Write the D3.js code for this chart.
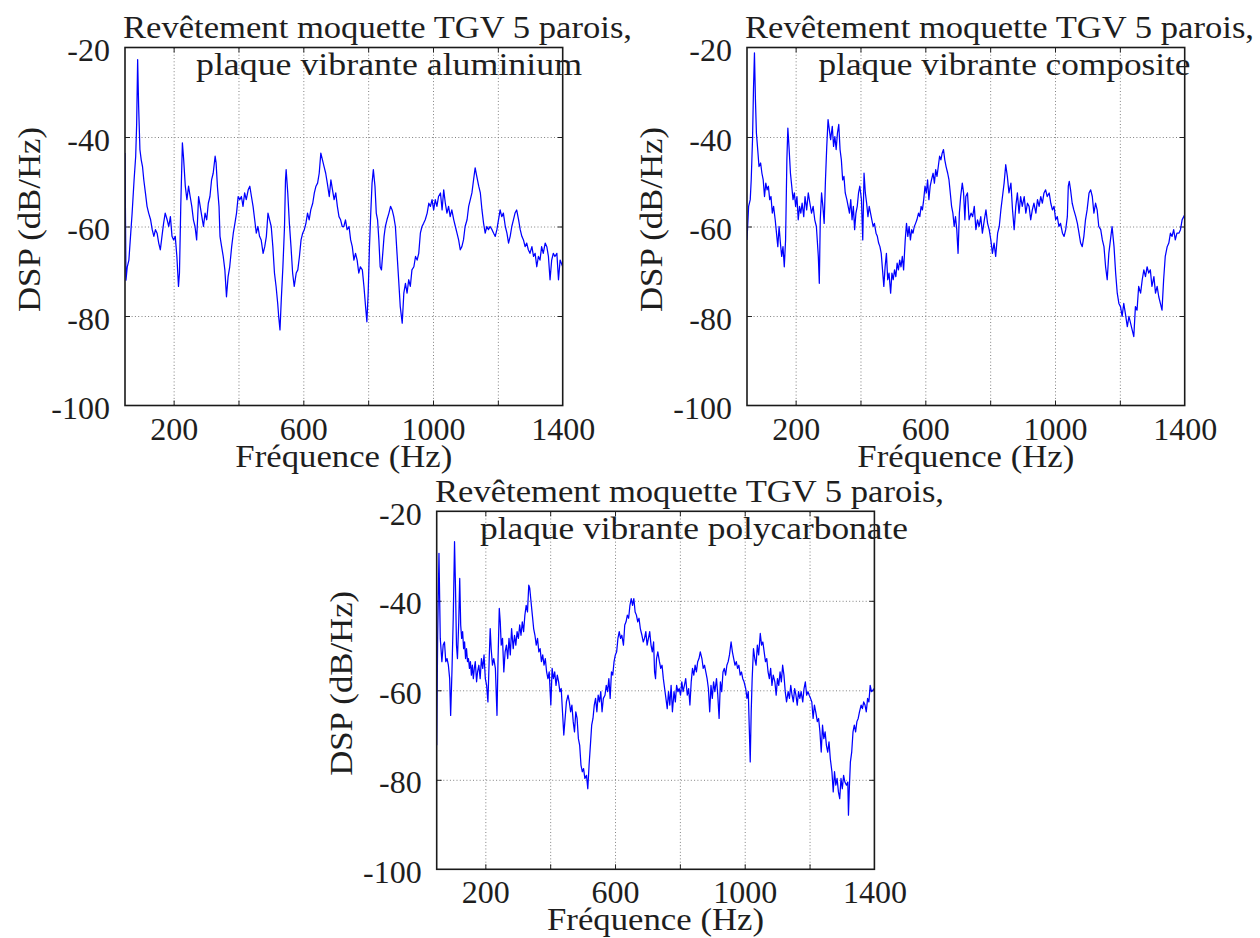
<!DOCTYPE html>
<html><head><meta charset="utf-8">
<script src="https://cdn.jsdelivr.net/npm/d3@7"></script>
<style>
body{margin:0;background:#fff;}
text{font-family:"Liberation Serif","Times New Roman",serif;fill:#1e1e1e;}
</style></head><body>
<script>
// ---------- data ----------
const xDomain = [50, 1400];
const yDomain = [-100, -20];
const gridFreqs = [200, 400, 600, 800, 1000, 1200];
const freqTickLabels = [200, 600, 1000, 1400];
const dspTicks = [-20, -40, -60, -80, -100];
const titleLine1 = "Revêtement moquette TGV 5 parois,";
const titleLine2 = ["plaque vibrante aluminium", "plaque vibrante composite", "plaque vibrante polycarbonate"];
const xLabel = "Fréquence (Hz)";
const yLabel = "DSP (dB/Hz)";

// [frequency Hz, DSP dB/Hz]
const dspAluminium = [[50,-43.6],[53,-72],[57,-69],[62,-67.5],[67,-62.2],[72,-57],[78,-49.6],[83,-44.3],[86,-37],[89,-22.7],[92,-33],[96,-42.8],[100,-45.1],[104,-46.6],[108,-49.6],[113,-52.5],[118,-55.5],[123,-57],[129,-58.5],[134,-60.7],[139,-62.2],[144,-60.7],[149,-61.5],[154,-63.7],[159,-65.2],[164,-62.2],[169,-59.3],[174,-57],[180,-58.5],[185,-60],[190,-57.8],[195,-62.2],[200,-63],[205,-62.2],[210,-66.7],[215,-73.4],[218,-70.4],[222,-55.5],[227,-41.3],[231,-45.1],[236,-51],[241,-54],[246,-51],[251,-53.3],[256,-55.5],[261,-58.5],[266,-60],[271,-63],[277,-53.3],[282,-55.5],[287,-57.8],[292,-60],[297,-57],[302,-58.5],[307,-54.8],[312,-53.3],[317,-49.6],[322,-48.1],[328,-44.3],[331,-45.8],[335,-51],[340,-55.5],[343,-62.2],[348,-64.5],[353,-66.7],[358,-69.7],[363,-75.7],[368,-71.2],[373,-69],[379,-64.5],[384,-61.5],[389,-59.3],[394,-57],[399,-53.3],[404,-54],[409,-53.3],[414,-55.5],[419,-52.5],[424,-54],[430,-51.8],[435,-51],[440,-53.3],[445,-55.5],[450,-58.5],[455,-61.5],[460,-60],[465,-62.2],[470,-63],[476,-66],[481,-64.5],[486,-62.2],[491,-57],[496,-58.5],[501,-60],[506,-64.5],[511,-70.4],[516,-73.4],[521,-77.2],[524,-80.1],[528,-83.1],[532,-76.4],[537,-69],[542,-60],[545,-49.6],[547,-47.3],[552,-52.5],[557,-59.3],[562,-64.5],[567,-70.4],[572,-73.4],[578,-70.4],[583,-69.7],[588,-66.7],[593,-63],[598,-61.5],[603,-60.7],[608,-59.3],[613,-57],[618,-58.5],[623,-56.3],[629,-54.8],[634,-52.5],[639,-51],[644,-50.3],[649,-48.1],[654,-43.6],[659,-45.1],[664,-46.6],[669,-48.1],[674,-50.3],[680,-53.3],[685,-49.6],[690,-51.8],[695,-54],[700,-52.5],[705,-55.5],[710,-57.8],[715,-58.5],[720,-60],[725,-60],[730,-58.5],[735,-60.7],[741,-60],[746,-63],[751,-64.5],[756,-67.5],[761,-66],[766,-67.5],[771,-70.4],[776,-69],[782,-69.7],[787,-73.4],[792,-77.9],[796,-81.3],[800,-74.9],[804,-64.5],[808,-57],[812,-50.3],[816,-47.3],[821,-51],[825,-57],[829,-58.5],[833,-63],[837,-69],[841,-69.7],[845,-66],[849,-62.2],[853,-60],[858,-58.5],[864,-57],[869,-55.5],[874,-56.3],[879,-57.8],[884,-60],[889,-66],[894,-71.9],[899,-77.9],[905,-81.6],[910,-74.9],[915,-72.7],[920,-74.9],[925,-71.9],[930,-73.4],[935,-69.7],[941,-69],[946,-66.7],[951,-67.5],[956,-66],[961,-61.5],[966,-60],[971,-59.3],[976,-58.5],[982,-57],[987,-54.8],[992,-55.5],[997,-54],[1002,-56.3],[1007,-54],[1012,-55.5],[1017,-53.3],[1023,-52.5],[1028,-56.3],[1033,-51.8],[1038,-54.8],[1043,-57],[1048,-55.5],[1053,-57.8],[1058,-56.3],[1064,-58.5],[1069,-60],[1074,-61.5],[1079,-63],[1084,-65.2],[1089,-64.5],[1094,-63],[1099,-60],[1105,-58.5],[1110,-55.5],[1115,-54],[1120,-52.5],[1125,-49.6],[1130,-46.9],[1135,-48.8],[1141,-51],[1146,-52.5],[1151,-56.3],[1156,-59.3],[1161,-61.5],[1166,-60],[1171,-60.7],[1176,-60],[1182,-60.7],[1187,-61.5],[1192,-62.2],[1197,-60.7],[1202,-58.5],[1207,-56.3],[1212,-57.8],[1217,-57],[1223,-60],[1228,-61.5],[1233,-63.7],[1238,-62.2],[1243,-60],[1248,-58.5],[1253,-57],[1258,-56.3],[1264,-58.5],[1269,-60.7],[1274,-62.2],[1279,-63],[1284,-64.5],[1289,-63.7],[1294,-65.2],[1299,-66],[1305,-64.5],[1310,-66.7],[1315,-66],[1320,-69],[1325,-66.7],[1330,-67.5],[1335,-64.5],[1340,-66],[1346,-63.7],[1351,-64.5],[1356,-66.7],[1361,-71.9],[1366,-67.5],[1371,-66],[1376,-66.7],[1382,-66],[1387,-71.9],[1392,-67.5],[1400,-69]];

const dspComposite = [[50,-63],[55,-55.5],[60,-54],[63,-49.6],[67,-40.6],[70,-29.4],[73,-21.2],[76,-31.6],[79,-39.1],[83,-42.8],[87,-46.6],[92,-45.8],[96,-48.1],[100,-49.6],[104,-53.3],[108,-50.3],[112,-51.8],[116,-51],[120,-54],[124,-53.3],[128,-57],[132,-55.5],[137,-58.5],[141,-61.5],[145,-64.5],[149,-60],[153,-63.7],[157,-66.7],[161,-64.5],[165,-69],[169,-63],[173,-45.1],[176,-38],[180,-42.8],[184,-48.1],[188,-51],[192,-54],[196,-52.5],[200,-55.5],[204,-53.3],[208,-58.5],[212,-55.5],[216,-57],[220,-54.8],[225,-57.8],[229,-53.3],[234,-56.3],[239,-52.5],[244,-54.8],[249,-57],[254,-55.5],[259,-58.5],[264,-60],[270,-66.7],[273,-72.7],[276,-58.5],[280,-52.5],[284,-55.5],[288,-59.3],[292,-49.6],[296,-42.1],[300,-36.1],[304,-38.4],[308,-40.6],[313,-37.6],[317,-42.1],[321,-39.9],[325,-42.8],[329,-39.1],[333,-37.2],[337,-42.8],[341,-45.1],[345,-49.6],[349,-48.8],[353,-52.5],[358,-54],[362,-55.5],[366,-57],[370,-54],[374,-58.5],[378,-55.5],[382,-60.7],[386,-57],[390,-55.5],[394,-52.5],[398,-51],[403,-54],[407,-63],[411,-48.1],[415,-52.5],[419,-54.8],[423,-57.8],[427,-55.5],[431,-57],[435,-58.5],[439,-60],[443,-59.3],[448,-61.5],[452,-62.2],[456,-63.7],[460,-64.5],[464,-66],[468,-69.7],[472,-73.4],[476,-69],[480,-66],[484,-71.9],[488,-70.4],[493,-74.9],[497,-70.4],[501,-71.9],[505,-69.7],[509,-71.2],[513,-68.2],[517,-69.7],[521,-67.5],[525,-69],[529,-66.7],[533,-69.7],[538,-63],[542,-59.3],[546,-62.2],[550,-60],[554,-63],[558,-60.7],[562,-61.5],[566,-60],[570,-59.3],[574,-58.5],[579,-57],[583,-57.8],[587,-55.5],[591,-56.3],[595,-54],[599,-51],[603,-52.5],[607,-49.6],[611,-54],[615,-51],[619,-49.6],[624,-48.1],[628,-50.3],[632,-47.3],[636,-48.8],[640,-46.6],[644,-44.3],[648,-45.1],[652,-43.6],[656,-42.8],[660,-45.1],[664,-46.6],[669,-48.1],[673,-49.6],[677,-52.5],[681,-55.5],[685,-57],[689,-60],[693,-57.8],[697,-60.7],[701,-66],[705,-57],[709,-53.3],[714,-50.3],[718,-52.5],[722,-58.5],[725,-53.3],[730,-52.5],[735,-58.5],[741,-57],[746,-57.8],[751,-55.5],[756,-60.7],[761,-58.5],[766,-60],[771,-57.8],[776,-61.5],[782,-58.5],[787,-56.3],[792,-59.3],[797,-60.7],[802,-63],[807,-66],[812,-63.7],[817,-66.7],[823,-61.5],[828,-60],[833,-56.3],[838,-53.3],[843,-50.3],[848,-46.2],[853,-48.8],[858,-52.5],[864,-50.3],[869,-56.3],[874,-60.7],[879,-55.5],[884,-52.5],[889,-57],[894,-53.3],[899,-55.5],[905,-53.3],[910,-57],[915,-54.8],[920,-55.5],[925,-58.5],[930,-56.3],[935,-54.8],[941,-57],[946,-54],[951,-55.5],[956,-53.3],[961,-54.8],[966,-52.5],[971,-51.8],[976,-53.3],[982,-52.5],[987,-54.8],[992,-56.3],[997,-55.5],[1002,-58.5],[1007,-57.8],[1012,-60],[1017,-59.3],[1023,-61.5],[1028,-62.2],[1033,-60.7],[1038,-57.8],[1041,-51],[1044,-49.9],[1048,-51.8],[1053,-54.8],[1058,-56.3],[1064,-57.8],[1069,-59.3],[1074,-61.5],[1079,-63.7],[1084,-64.5],[1089,-62.2],[1094,-58.5],[1099,-56.3],[1105,-52.5],[1110,-51.8],[1115,-53.3],[1120,-57],[1125,-54.8],[1130,-56.3],[1135,-60],[1141,-60.7],[1146,-63],[1151,-64.5],[1156,-69],[1161,-71.9],[1166,-66],[1171,-63],[1176,-60],[1182,-64.5],[1187,-70.4],[1192,-74.9],[1197,-77.2],[1202,-77.9],[1207,-80.1],[1212,-77.2],[1217,-79.4],[1223,-82.4],[1228,-80.1],[1233,-81.6],[1238,-83.1],[1243,-84.6],[1248,-77.9],[1253,-78.7],[1258,-73.4],[1264,-74.9],[1269,-71.9],[1274,-69.7],[1279,-71.2],[1284,-69],[1289,-70.4],[1294,-69.7],[1299,-73.4],[1305,-71.2],[1310,-74.9],[1315,-73.4],[1320,-75.7],[1325,-77.2],[1330,-78.7],[1335,-71.9],[1340,-66.7],[1346,-64.5],[1351,-63.7],[1356,-61.5],[1361,-62.2],[1366,-60.7],[1371,-63],[1376,-61.5],[1382,-61.5],[1387,-60.7],[1392,-58.5],[1400,-57.4]];

const dspPolycarbonate = [[50,-72.3],[53,-47.7],[57,-29.4],[61,-48.4],[66,-53.6],[70,-49.9],[74,-49.2],[78,-53.6],[82,-52.9],[86,-54.4],[90,-57.4],[93,-65.6],[97,-55.9],[101,-43.9],[105,-26.8],[108,-37.2],[111,-49.9],[114,-52.9],[118,-44.7],[121,-35],[124,-45.4],[127,-48.4],[130,-46.9],[133,-50.7],[136,-49.2],[139,-52.9],[142,-50.7],[145,-53.6],[148,-52.9],[151,-55.1],[154,-53.6],[157,-56.6],[160,-54.4],[163,-57.4],[166,-55.1],[169,-53.6],[173,-58.1],[176,-55.9],[180,-54.4],[184,-57.4],[188,-52.9],[192,-55.1],[196,-52.1],[200,-57.4],[204,-58.9],[208,-62.6],[212,-52.9],[215,-46.2],[218,-50.7],[222,-54.4],[226,-52.9],[231,-55.1],[236,-65.6],[239,-53.6],[243,-41.7],[246,-44.7],[249,-49.9],[253,-48.4],[257,-55.9],[261,-51.4],[265,-49.9],[269,-52.9],[273,-48.4],[277,-52.1],[281,-46.2],[286,-50.7],[290,-47.7],[294,-49.9],[298,-46.9],[302,-48.4],[306,-45.4],[310,-47.7],[314,-44.7],[318,-46.9],[322,-43.2],[326,-41],[330,-42.5],[334,-36.5],[337,-37.2],[340,-39.5],[345,-43.2],[349,-46.2],[353,-47.7],[357,-49.9],[361,-48.4],[365,-51.4],[369,-50.7],[373,-53.6],[377,-52.1],[381,-54.4],[385,-52.9],[389,-55.9],[393,-57.4],[397,-55.9],[402,-63.3],[406,-55.1],[410,-57.4],[414,-55.9],[418,-58.9],[422,-56.6],[426,-58.1],[430,-60.3],[434,-59.6],[438,-64.8],[442,-70],[446,-66.3],[450,-62.6],[455,-61.1],[459,-62.6],[463,-64.8],[467,-63.3],[471,-67],[475,-69.3],[479,-64.8],[483,-66.3],[487,-70.8],[491,-72.3],[495,-76.7],[499,-78.2],[503,-77.5],[507,-79.7],[512,-79],[516,-82],[520,-76.7],[524,-72.3],[528,-67.8],[532,-66.3],[536,-63.3],[540,-61.8],[544,-64.8],[548,-61.1],[552,-62.6],[556,-60.3],[560,-64.8],[564,-61.8],[569,-61.1],[573,-58.9],[577,-60.3],[581,-57.4],[585,-61.8],[589,-55.9],[593,-56.6],[597,-53.6],[601,-52.1],[605,-51.4],[609,-48.4],[613,-46.9],[617,-48.4],[621,-47.7],[626,-49.9],[630,-45.4],[634,-44.7],[638,-43.2],[642,-43.9],[646,-41],[650,-39.5],[654,-41],[658,-39.5],[662,-42.5],[666,-43.2],[670,-44.7],[674,-43.9],[678,-46.2],[683,-47.7],[687,-49.2],[691,-48.4],[695,-46.9],[699,-49.9],[703,-48.4],[707,-46.9],[711,-49.9],[715,-51.4],[719,-49.2],[722,-55.9],[725,-57.4],[728,-52.9],[732,-51.4],[737,-53.6],[741,-55.1],[745,-54.4],[749,-57.4],[753,-59.6],[757,-61.8],[761,-64.1],[765,-60.3],[769,-63.3],[773,-58.9],[777,-64.8],[782,-60.3],[786,-62.6],[790,-58.9],[794,-60.3],[798,-59.6],[802,-61.1],[806,-58.1],[810,-60.3],[814,-58.9],[818,-57.4],[823,-61.1],[827,-59.6],[831,-63.3],[835,-58.1],[839,-55.1],[843,-56.6],[847,-54.4],[851,-55.9],[855,-53.6],[859,-52.9],[863,-51.4],[868,-52.9],[872,-55.1],[876,-54.4],[880,-55.9],[884,-57.4],[888,-59.6],[892,-64.8],[896,-58.9],[900,-61.8],[904,-58.1],[908,-60.3],[913,-57.4],[917,-61.1],[921,-66.3],[925,-58.1],[929,-60.3],[933,-55.9],[937,-55.1],[941,-56.6],[945,-54.4],[949,-53.6],[953,-52.1],[958,-49.2],[962,-51.4],[966,-52.9],[970,-54.4],[974,-53.6],[978,-55.1],[982,-54.4],[986,-56.6],[990,-55.9],[994,-57.4],[998,-58.1],[1003,-59.6],[1007,-61.8],[1011,-60.3],[1015,-70.8],[1017,-76],[1020,-64.8],[1023,-57.4],[1027,-50.7],[1031,-52.9],[1035,-54.4],[1039,-49.9],[1043,-52.1],[1048,-47.3],[1052,-49.9],[1056,-49.2],[1060,-51.4],[1064,-53.6],[1068,-52.9],[1072,-55.9],[1076,-57.4],[1080,-55.1],[1084,-58.9],[1088,-56.6],[1093,-58.1],[1097,-61.1],[1101,-57.4],[1105,-58.9],[1109,-55.9],[1113,-58.1],[1117,-54.4],[1121,-56.6],[1125,-60.3],[1129,-62.6],[1134,-60.3],[1138,-61.8],[1142,-58.9],[1146,-61.1],[1150,-62.6],[1154,-59.6],[1158,-61.1],[1162,-63.3],[1166,-60.3],[1170,-61.8],[1174,-60.3],[1179,-62.6],[1183,-59.6],[1187,-58.1],[1191,-61.1],[1195,-60.3],[1199,-61.1],[1203,-61.8],[1207,-62.6],[1211,-66.3],[1215,-63.3],[1219,-64.8],[1224,-67],[1228,-66.3],[1232,-69.3],[1236,-73.8],[1240,-67.8],[1244,-70.8],[1248,-69.3],[1252,-72.3],[1256,-73.8],[1260,-71.5],[1264,-75.3],[1269,-78.2],[1273,-82.7],[1277,-78.2],[1281,-81.2],[1285,-79.7],[1289,-82.7],[1293,-84.2],[1297,-79.7],[1301,-82],[1305,-79],[1309,-80.5],[1314,-81.2],[1318,-80.5],[1320,-87.9],[1323,-81.2],[1326,-76],[1330,-73.8],[1334,-69.3],[1338,-67.8],[1342,-69.3],[1346,-67],[1350,-66.3],[1354,-64.8],[1359,-63.3],[1363,-64.1],[1367,-62.6],[1371,-63.3],[1375,-64.8],[1379,-61.8],[1383,-62.6],[1387,-58.9],[1391,-60.3],[1400,-59.6]];

const series = [dspAluminium, dspComposite, dspPolycarbonate];

// ---------- layout ----------
const panels = [
  {left:125, top:47.5, w:437.7, h:358, t1x:123, t2x:196, t2w:386},
  {left:747, top:47.5, w:437.7, h:358, t1x:745, t2x:818.5, t2w:372},
  {left:436.7, top:511.3, w:437.7, h:358, t1x:435, t2x:480, t2w:428}
];
const FONT = 31;
const TICKFONT = 32;

const svg = d3.select("body").append("svg").attr("width",1260).attr("height",938);

function fitText(sel, target){
  const n = sel.node().getComputedTextLength();
  if (Math.abs(n-target) > 1) sel.attr("textLength", target).attr("lengthAdjust","spacingAndGlyphs");
}

panels.forEach((p, i) => {
  const x = d3.scaleLinear().domain(xDomain).range([p.left, p.left + p.w]);
  const y = d3.scaleLinear().domain(yDomain).range([p.top + p.h, p.top]);
  const g = svg.append("g");

  g.append("rect").attr("x",p.left).attr("y",p.top).attr("width",p.w).attr("height",p.h).attr("fill","#fff");

  // grid
  const gx = g.append("g").attr("transform",`translate(0,${p.top+p.h})`)
    .call(d3.axisBottom(x).tickValues(gridFreqs).tickSize(-p.h).tickFormat(""));
  const gy = g.append("g").attr("transform",`translate(${p.left},0)`)
    .call(d3.axisLeft(y).tickValues([-40,-60,-80]).tickSize(-p.w).tickFormat(""));
  [gx, gy].forEach(a => {
    a.select(".domain").remove();
    a.selectAll("line").attr("stroke","#808080").attr("stroke-width",1).attr("stroke-dasharray","1,2.3");
  });

  // inner tick marks (all four sides)
  const tl = 5;
  const tb = g.append("g").attr("transform",`translate(0,${p.top+p.h})`).call(d3.axisBottom(x).tickValues(gridFreqs).tickSize(-tl).tickFormat(""));
  const tt = g.append("g").attr("transform",`translate(0,${p.top})`).call(d3.axisTop(x).tickValues(gridFreqs).tickSize(-tl).tickFormat(""));
  const tlft = g.append("g").attr("transform",`translate(${p.left},0)`).call(d3.axisLeft(y).tickValues([-40,-60,-80]).tickSize(-tl).tickFormat(""));
  const trt = g.append("g").attr("transform",`translate(${p.left+p.w},0)`).call(d3.axisRight(y).tickValues([-40,-60,-80]).tickSize(-tl).tickFormat(""));
  [tb,tt,tlft,trt].forEach(a => { a.select(".domain").remove(); a.selectAll("line").attr("stroke","#222").attr("stroke-width",1); });

  // clip + line
  const cid = "clip" + i;
  svg.append("clipPath").attr("id",cid).append("rect").attr("x",p.left).attr("y",p.top).attr("width",p.w).attr("height",p.h);
  const line = d3.line().x(d => x(d[0])).y(d => y(d[1]));
  g.append("path").datum(series[i]).attr("clip-path",`url(#${cid})`)
    .attr("d", line).attr("fill","none").attr("stroke","#0000ff").attr("stroke-width",1.25).attr("stroke-linejoin","round");

  // frame
  g.append("rect").attr("x",p.left).attr("y",p.top).attr("width",p.w).attr("height",p.h)
    .attr("fill","none").attr("stroke","#1a1a1a").attr("stroke-width",1.6);

  // tick labels
  const xl = g.append("g").attr("transform",`translate(0,${p.top+p.h})`)
    .call(d3.axisBottom(x).tickValues(freqTickLabels).tickSize(0).tickPadding(0).tickFormat(d3.format("d")));
  xl.select(".domain").remove();
  xl.selectAll("text").attr("font-size",TICKFONT).attr("font-family",null).attr("y",34).attr("dy",null).attr("fill","#1e1e1e");
  const yl = g.append("g").attr("transform",`translate(${p.left},0)`)
    .call(d3.axisLeft(y).tickValues(dspTicks).tickSize(0).tickPadding(15).tickFormat(d => "-" + Math.abs(d)));
  yl.select(".domain").remove();
  yl.selectAll("text").attr("font-size",TICKFONT).attr("font-family",null).attr("dy",null).attr("y",13).attr("fill","#1e1e1e");

  // titles
  const t1 = g.append("text").attr("x",p.t1x).attr("y",p.top-9.5).attr("font-size",FONT).text(titleLine1);
  fitText(t1, 509);
  const t2 = g.append("text").attr("x",p.t2x).attr("y",p.top+27.5).attr("font-size",FONT).text(titleLine2[i]);
  fitText(t2, p.t2w);

  // axis labels
  const xt = g.append("text").attr("x",p.left+p.w/2).attr("y",p.top+p.h+61).attr("text-anchor","middle").attr("font-size",FONT).text(xLabel);
  fitText(xt, 217);
  const cy = p.top + 172;
  const yt = g.append("text").attr("transform",`translate(${p.left-85},${cy}) rotate(-90)`).attr("text-anchor","middle").attr("font-size",FONT).text(yLabel);
  fitText(yt, 185);
});
</script>
</body></html>
